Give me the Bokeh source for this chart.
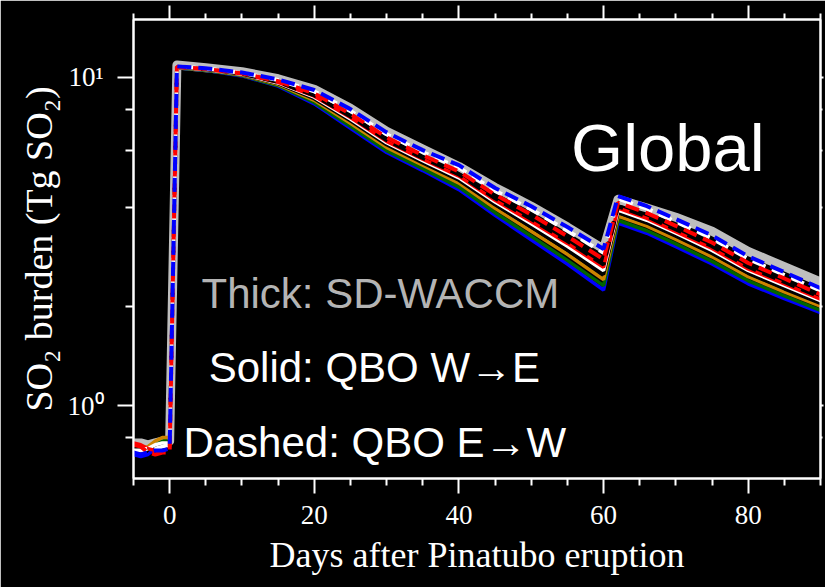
from bokeh.plotting import figure
from bokeh.models import FixedTicker, LinearAxis, LogAxis, Label, Range1d
from bokeh.embed import file_html
from bokeh.resources import INLINE

# ---- data ----
days = [-5, -4, -3, -2, -1, 0, 1, 5, 10, 15, 20, 25, 30, 35, 40, 45, 50, 55, 60, 62, 66, 70, 75, 80, 85, 90]

sd_waccm = [0.77, 0.77, 0.76, 0.77, 0.78, 0.78, 10.9, 10.7, 10.4, 9.9, 9.2, 8.05, 6.85, 6.05, 5.35, 4.62, 4.05, 3.5, 3.0, 4.25, 4.0, 3.75, 3.4, 2.95, 2.65, 2.38]

# QBO W->E (solid)
we_blue = [0.71, 0.70, 0.71, 0.74, 0.77, 0.78, 10.7, 10.5, 10.1, 9.4, 8.3, 7.0, 5.9, 5.2, 4.55, 3.8, 3.2, 2.7, 2.25, 3.6, 3.35, 3.05, 2.7, 2.35, 2.12, 1.92]
we_green = [0.73, 0.73, 0.74, 0.76, 0.78, 0.79, 10.7, 10.51, 10.12, 9.44, 8.38, 7.09, 5.98, 5.27, 4.63, 3.87, 3.28, 2.77, 2.32, 3.67, 3.41, 3.11, 2.75, 2.4, 2.16, 1.95]
we_orange = [0.74, 0.74, 0.75, 0.78, 0.80, 0.80, 10.72, 10.54, 10.16, 9.52, 8.51, 7.25, 6.12, 5.4, 4.76, 3.99, 3.4, 2.89, 2.42, 3.78, 3.52, 3.21, 2.84, 2.47, 2.22, 2.01]
we_black = [0.74, 0.74, 0.74, 0.75, 0.76, 0.77, 10.73, 10.56, 10.19, 9.57, 8.61, 7.37, 6.23, 5.49, 4.86, 4.09, 3.5, 2.98, 2.51, 3.87, 3.6, 3.28, 2.91, 2.53, 2.27, 2.05]
we_white = [0.75, 0.75, 0.74, 0.76, 0.77, 0.77, 10.74, 10.57, 10.22, 9.61, 8.7, 7.46, 6.32, 5.57, 4.94, 4.17, 3.58, 3.06, 2.58, 3.94, 3.67, 3.35, 2.97, 2.58, 2.32, 2.09]
we_red = [0.77, 0.76, 0.74, 0.73, 0.74, 0.75, 10.75, 10.58, 10.25, 9.65, 8.76, 7.54, 6.38, 5.63, 5.0, 4.22, 3.64, 3.12, 2.64, 4.0, 3.72, 3.39, 3.01, 2.61, 2.35, 2.11]

# QBO E->W (dashed)
ew_black = [0.74, 0.74, 0.73, 0.73, 0.74, 0.75, 10.76, 10.6, 10.25, 9.68, 8.81, 7.61, 6.44, 5.68, 5.06, 4.28, 3.7, 3.17, 2.69, 4.05, 3.77, 3.44, 3.06, 2.65, 2.38, 2.14]
ew_white = [0.73, 0.73, 0.74, 0.74, 0.75, 0.76, 10.79, 10.63, 10.32, 9.81, 9.06, 7.9, 6.71, 5.91, 5.31, 4.51, 3.96, 3.41, 2.92, 4.27, 3.98, 3.63, 3.23, 2.8, 2.5, 2.24]
ew_red = [0.76, 0.75, 0.72, 0.71, 0.72, 0.72, 10.77, 10.61, 10.28, 9.73, 8.93, 7.74, 6.56, 5.79, 5.17, 4.39, 3.82, 3.28, 2.79, 4.15, 3.86, 3.53, 3.14, 2.72, 2.44, 2.18]
ew_blue = [0.72, 0.71, 0.72, 0.73, 0.73, 0.74, 10.8, 10.65, 10.35, 9.85, 9.15, 8.0, 6.8, 6.0, 5.4, 4.6, 4.05, 3.5, 3.0, 4.35, 4.05, 3.7, 3.3, 2.85, 2.55, 2.28]

x_major = [0, 20, 40, 60, 80]
x_minor = [-5, 5, 10, 15, 25, 30, 35, 45, 50, 55, 65, 70, 75, 85, 90]
y_major = [1, 10]
y_minor = [0.8, 2, 4, 6, 8]
y_labels = {1: "10\u2070", 10: "10\u00b9"}

SERIF = "Liberation Serif"
SANS = "Liberation Sans"

p = figure(width=825, height=587, y_axis_type="log",
           x_range=Range1d(-5, 90), y_range=Range1d(0.6, 15),
           output_backend="svg", toolbar_location=None,
           background_fill_color="black", border_fill_color="black",
           min_border_left=133, min_border_right=5, min_border_top=19, min_border_bottom=109)
p.grid.visible = False
p.outline_line_color = "white"
p.outline_line_width = 2


def style_axis(ax, major_out, minor_out):
    ax.axis_line_color = "white"
    ax.axis_line_width = 2
    ax.major_tick_line_color = "white"
    ax.minor_tick_line_color = "white"
    ax.major_tick_line_width = 2
    ax.minor_tick_line_width = 2
    ax.major_tick_in = 0
    ax.minor_tick_in = 0
    ax.major_tick_out = major_out
    ax.minor_tick_out = minor_out
    ax.major_label_text_color = "white"
    ax.major_label_text_font = SERIF
    ax.major_label_text_font_size = "27px"
    ax.axis_label_text_color = "white"
    ax.axis_label_text_font = SERIF
    ax.axis_label_text_font_style = "normal"


xb = p.xaxis[0]
xb.ticker = FixedTicker(ticks=x_major, minor_ticks=x_minor)
style_axis(xb, 15, 7)
xb.major_label_standoff = 12
xb.axis_label = "Days after Pinatubo eruption"
xb.axis_label_text_font_size = "36px"
xb.axis_label_standoff = 8

yl = p.yaxis[0]
yl.ticker = FixedTicker(ticks=y_major, minor_ticks=y_minor)
style_axis(yl, 16, 8)
yl.major_label_overrides = y_labels
yl.major_label_standoff = 14
yl.axis_label = "SO\u2082 burden (Tg SO\u2082)"
yl.axis_label_text_font_size = "38px"
yl.axis_label_standoff = 5

xt = LinearAxis(ticker=FixedTicker(ticks=x_major, minor_ticks=x_minor))
style_axis(xt, 14, 6)
xt.major_label_text_font_size = "1px"
xt.major_label_text_alpha = 0
xt.major_label_standoff = 0
p.add_layout(xt, "above")

yr = LogAxis(ticker=FixedTicker(ticks=y_major, minor_ticks=y_minor))
style_axis(yr, 3, 2)
yr.major_label_text_font_size = "1px"
yr.major_label_text_alpha = 0
yr.major_label_standoff = 0
p.add_layout(yr, "right")

# thick SD-WACCM
p.line(days, sd_waccm, line_color="#bebebe", line_width=9, line_join="round", line_cap="round")

# solid lines (QBO W->E)
p.line(days, we_blue, line_color="#0000ff", line_width=3.5)
p.line(days, we_green, line_color="#006400", line_width=3.5)
p.line(days, we_orange, line_color="#cc8400", line_width=3.5)
p.line(days, we_black, line_color="#000000", line_width=3.5)
p.line(days, we_white, line_color="#ffffff", line_width=3.5)
p.line(days, we_red, line_color="#ff0000", line_width=3.5)

# dashed lines (QBO E->W)
p.line(days, ew_black, line_color="#000000", line_width=4, line_dash="14 7")
p.line(days, ew_white, line_color="#ffffff", line_width=4, line_dash="14 7")
p.line(days, ew_red, line_color="#ff0000", line_width=4, line_dash="14 7")
p.line(days, ew_blue, line_color="#0000ff", line_width=4, line_dash="14 7")

# annotations
p.add_layout(Label(x=55.5, y=6.11, text="Global", text_color="white",
                   text_font=SANS, text_font_size="67px", text_baseline="alphabetic"))
p.add_layout(Label(x=4.4, y=2.195, text="Thick: SD-WACCM", text_color="#b4b4b4",
                   text_font=SANS, text_font_size="42px", text_baseline="alphabetic"))
p.add_layout(Label(x=5.4, y=1.305, text="Solid: QBO W\u2192E", text_color="white",
                   text_font=SANS, text_font_size="42px", text_baseline="alphabetic"))
p.add_layout(Label(x=1.9, y=0.771, text="Dashed: QBO E\u2192W", text_color="white",
                   text_font=SANS, text_font_size="42px", text_baseline="alphabetic"))

open("out.html", "w").write(file_html(p, INLINE))
